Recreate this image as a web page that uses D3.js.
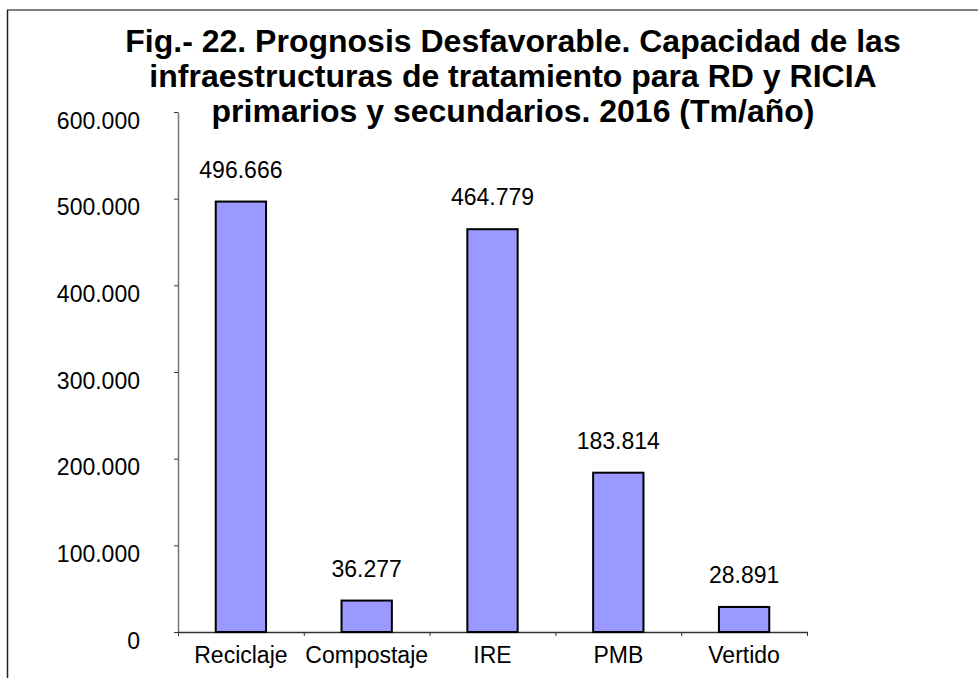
<!DOCTYPE html>
<html>
<head>
<meta charset="utf-8">
<script src="https://cdn.jsdelivr.net/npm/d3@7"></script>
<style>
  body { margin: 0; background: #fff; }
  svg text { font-family: "Liberation Sans", Arial, sans-serif; fill: #000; }
</style>
</head>
<body>
<div id="chartContainer"></div>
<script>
// chart values
var categories = ["Reciclaje", "Compostaje", "IRE", "PMB", "Vertido"];
var values = [496666, 36277, 464779, 183814, 28891];
var yTicks = [0, 100000, 200000, 300000, 400000, 500000, 600000];
var titleLines = [
    "Fig.- 22. Prognosis Desfavorable. Capacidad de las",
    "infraestructuras de tratamiento para RD y RICIA",
    "primarios y secundarios. 2016 (Tm/año)"
];

var width = 978, height = 678;
var margin = {top: 112, right: 171, bottom: 46, left: 178};
var plotW = width - margin.left - margin.right;
var plotH = height - margin.top - margin.bottom;

var esLocale = d3.formatLocale({decimal: ",", thousands: ".", grouping: [3], currency: ["", "€"]});
var fmt = esLocale.format(",d");

var svg = d3.select("#chartContainer")
    .append("svg")
    .attr("width", width)
    .attr("height", height);

// outer frame (cut off at right and bottom)
svg.append("line")
    .attr("x1", 7).attr("y1", 10).attr("x2", width).attr("y2", 10)
    .attr("stroke", "#808080").attr("stroke-width", 2);
svg.append("line")
    .attr("x1", 7.5).attr("y1", 10).attr("x2", 7.5).attr("y2", height)
    .attr("stroke", "#222").attr("stroke-width", 1.5);

// title
svg.append("text")
    .attr("text-anchor", "middle")
    .style("font-size", "32px")
    .style("font-weight", "bold")
    .selectAll("tspan")
    .data(titleLines)
    .enter()
    .append("tspan")
    .attr("x", 513)
    .attr("y", function(d, i) { return 52 + i * 35; })
    .text(function(d) { return d; });

var g = svg.append("g")
    .attr("transform", "translate(" + margin.left + "," + margin.top + ")");

var yScale = d3.scaleLinear()
    .domain([0, 600000])
    .range([plotH, 0]);

var xScale = d3.scaleBand()
    .domain(categories)
    .range([0, plotW])
    .paddingInner(0.6)
    .paddingOuter(0.3);

var catScale = d3.scaleBand()
    .domain(categories)
    .range([0, plotW]);

// y axis
var yAxis = g.append("g")
    .attr("class", "yAxis")
    .call(d3.axisLeft(yScale).tickValues(yTicks).tickFormat(fmt).tickSizeInner(4).tickSizeOuter(0).tickPadding(34));
yAxis.select(".domain").attr("stroke", "#777").attr("stroke-width", 1.5);
yAxis.selectAll(".tick line").attr("stroke", "#333");
yAxis.selectAll(".tick text")
    .attr("dy", "16px")
    .style("font-size", "23px");

// x axis: boundary ticks
var boundScale = d3.scaleLinear().domain([0, categories.length]).range([0, plotW]);
var xAxis = g.append("g")
    .attr("class", "xAxis")
    .attr("transform", "translate(0," + plotH + ")")
    .call(d3.axisBottom(boundScale).tickValues(d3.range(categories.length + 1)).tickFormat("").tickSizeInner(4).tickSizeOuter(0));
xAxis.select(".domain").attr("stroke", "#333").attr("stroke-width", 1.5);
xAxis.selectAll(".tick line").attr("stroke", "#333");

// x axis: category labels
var xLabels = g.append("g")
    .attr("class", "xLabels")
    .attr("transform", "translate(0," + plotH + ")")
    .call(d3.axisBottom(catScale).tickSize(0).tickPadding(0));
xLabels.select(".domain").remove();
xLabels.selectAll(".tick text")
    .attr("y", 0)
    .attr("dy", "31px")
    .style("font-size", "23px");

// bars
var data = categories.map(function(c, i) { return {cat: c, val: values[i]}; });

g.selectAll("rect.bar")
    .data(data)
    .enter()
    .append("rect")
    .attr("class", "bar")
    .attr("x", function(d) { return xScale(d.cat); })
    .attr("width", xScale.bandwidth())
    .attr("y", function(d) { return yScale(d.val); })
    .attr("height", function(d) { return plotH - yScale(d.val); })
    .attr("fill", "#9999ff")
    .attr("stroke", "#000")
    .attr("stroke-width", 2);

// value labels
g.selectAll("text.valLabel")
    .data(data)
    .enter()
    .append("text")
    .attr("class", "valLabel")
    .attr("text-anchor", "middle")
    .attr("x", function(d) { return xScale(d.cat) + xScale.bandwidth() / 2; })
    .attr("y", function(d) { return yScale(d.val) - 24; })
    .style("font-size", "23px")
    .text(function(d) { return fmt(d.val); });
</script>
</body>
</html>
